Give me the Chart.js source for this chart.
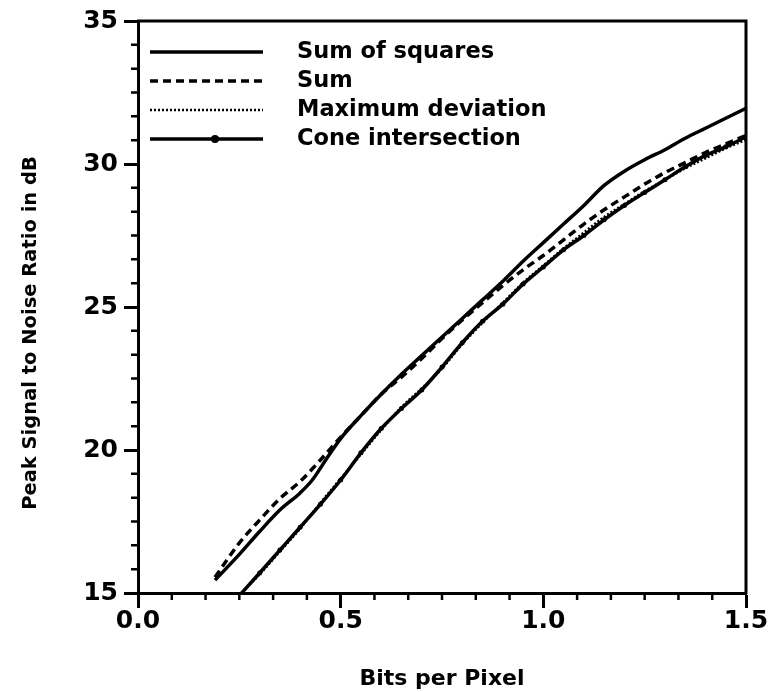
<!DOCTYPE html>
<html>
<head>
<meta charset="utf-8">
<script src="https://cdn.jsdelivr.net/npm/chart.js@4"></script>
<style>
    body { margin: 0; background: #fff; }
    #wrap { width: 774px; height: 692px; position: relative; }
</style>
</head>
<body>
<div id="wrap"><canvas id="psnrChart"></canvas></div>
<script>
// bit rates (x) and PSNR in dB (y) for each error measure
const bitsSumSquares = [0.19, 0.25, 0.30, 0.35, 0.40, 0.43, 0.47, 0.50, 0.55, 0.60, 0.65, 0.70, 0.75, 0.80, 0.85, 0.90, 0.95, 1.00, 1.05, 1.10, 1.15, 1.20, 1.25, 1.30, 1.35, 1.40, 1.45, 1.50];
const psnrSumSquares = [15.45, 16.35, 17.15, 17.9, 18.5, 18.95, 19.8, 20.4, 21.2, 21.95, 22.65, 23.3, 23.95, 24.6, 25.25, 25.9, 26.6, 27.25, 27.9, 28.55, 29.25, 29.75, 30.15, 30.5, 30.9, 31.25, 31.6, 31.95];

const bitsSum = [0.19, 0.25, 0.30, 0.35, 0.40, 0.45, 0.50, 0.55, 0.60, 0.65, 0.70, 0.75, 0.80, 0.85, 0.90, 0.95, 1.00, 1.05, 1.10, 1.15, 1.20, 1.25, 1.30, 1.35, 1.40, 1.45, 1.50];
const psnrSum = [15.55, 16.75, 17.55, 18.3, 18.9, 19.65, 20.45, 21.2, 21.95, 22.55, 23.2, 23.9, 24.55, 25.15, 25.75, 26.3, 26.8, 27.35, 27.9, 28.4, 28.85, 29.3, 29.7, 30.05, 30.4, 30.7, 31.0];

const bitsLower = [0.24, 0.30, 0.35, 0.40, 0.45, 0.50, 0.55, 0.60, 0.65, 0.70, 0.75, 0.80, 0.85, 0.90, 0.95, 1.00, 1.05, 1.10, 1.15, 1.20, 1.25, 1.30, 1.35, 1.40, 1.45, 1.50];
const psnrMaxDev = [14.8, 15.65, 16.45, 17.25, 18.15, 19.0, 19.85, 20.7, 21.5, 22.15, 22.85, 23.7, 24.45, 25.15, 25.85, 26.45, 27.05, 27.6, 28.15, 28.6, 29.05, 29.45, 29.85, 30.2, 30.55, 30.85];
const psnrCone = [14.75, 15.7, 16.5, 17.3, 18.1, 18.95, 19.9, 20.75, 21.45, 22.1, 22.9, 23.75, 24.5, 25.1, 25.8, 26.4, 27.0, 27.5, 28.05, 28.55, 29.0, 29.45, 29.9, 30.3, 30.6, 30.95];

const seriesNames = ['Sum of squares', 'Sum', 'Maximum deviation', 'Cone intersection'];

const xTicks = [0.0, 0.5, 1.0, 1.5];
const yTicks = [15, 20, 25, 30, 35];
const minorPerMajor = 6;

const FONT = 'DejaVu Sans';

function pairs(xs, ys) {
    return xs.map((x, i) => ({ x: x, y: ys[i] }));
}

// outer frame plus the small in-between ticks
const frameTicks = {
    id: 'frameTicks',
    afterDraw(chart) {
        const ctx = chart.ctx;
        const a = chart.chartArea;
        const x = chart.scales.x;
        const y = chart.scales.y;
        ctx.save();
        ctx.strokeStyle = '#000';
        ctx.lineWidth = 3;
        ctx.beginPath();
        ctx.moveTo(a.left - 1, a.top);
        ctx.lineTo(a.right, a.top);
        ctx.lineTo(a.right, a.bottom + 1);
        ctx.stroke();

        ctx.lineWidth = 2.5;
        ctx.beginPath();
        for (let k = 0; k < xTicks.length - 1; k++) {
            const step = (xTicks[k + 1] - xTicks[k]) / minorPerMajor;
            for (let i = 1; i < minorPerMajor; i++) {
                const px = x.getPixelForValue(xTicks[k] + i * step);
                ctx.moveTo(px, a.bottom);
                ctx.lineTo(px, a.bottom + 7);
            }
        }
        for (let k = 0; k < yTicks.length - 1; k++) {
            const step = (yTicks[k + 1] - yTicks[k]) / minorPerMajor;
            for (let i = 1; i < minorPerMajor; i++) {
                const py = y.getPixelForValue(yTicks[k] + i * step);
                ctx.moveTo(a.left - 7, py);
                ctx.lineTo(a.left, py);
            }
        }
        ctx.stroke();

        // y axis title sits a little below the middle of the axis
        ctx.fillStyle = '#000';
        ctx.font = 'bold 19.5px "' + FONT + '"';
        ctx.textAlign = 'center';
        ctx.textBaseline = 'middle';
        ctx.translate(31, (a.top + a.bottom) / 2 + 26);
        ctx.rotate(-Math.PI / 2);
        ctx.fillText('Peak Signal to Noise Ratio in dB', 0, 0);
        ctx.restore();
    }
};

// legend drawn inside the plot, line samples on the left
const lineLegend = {
    id: 'lineLegend',
    afterDraw(chart) {
        const ctx = chart.ctx;
        const a = chart.chartArea;
        const x0 = a.left + 12, x1 = a.left + 125, tx = a.left + 159;
        const rows = [52, 81, 110, 139];
        ctx.save();
        chart.data.datasets.forEach((ds, i) => {
            const yy = rows[i];
            ctx.strokeStyle = '#000';
            ctx.lineWidth = ds.borderWidth;
            ctx.setLineDash(ds.borderDash || []);
            ctx.beginPath();
            ctx.moveTo(x0, yy);
            ctx.lineTo(x1, yy);
            ctx.stroke();
            if (ds.pointRadius > 0) {
                ctx.setLineDash([]);
                ctx.fillStyle = '#000';
                ctx.beginPath();
                ctx.arc(x0 + 65, yy, 4, 0, Math.PI * 2);
                ctx.fill();
            }
            ctx.setLineDash([]);
            ctx.fillStyle = '#000';
            ctx.font = 'bold 22.5px "' + FONT + '"';
            ctx.textAlign = 'left';
            ctx.textBaseline = 'middle';
            ctx.fillText(ds.label, tx, yy);
        });
        ctx.restore();
    }
};

const ctx = document.getElementById('psnrChart').getContext('2d');

const chart = new Chart(ctx, {
    type: 'line',
    data: {
        datasets: [
            {
                label: seriesNames[0],
                data: pairs(bitsSumSquares, psnrSumSquares),
                borderColor: '#000',
                borderWidth: 3.5,
                pointRadius: 0
            },
            {
                label: seriesNames[1],
                data: pairs(bitsSum, psnrSum),
                borderColor: '#000',
                borderWidth: 3.5,
                borderDash: [8, 5],
                pointRadius: 0
            },
            {
                label: seriesNames[2],
                data: pairs(bitsLower, psnrMaxDev),
                borderColor: '#000',
                borderWidth: 2.5,
                borderDash: [2, 2],
                pointRadius: 0
            },
            {
                label: seriesNames[3],
                data: pairs(bitsLower, psnrCone),
                borderColor: '#000',
                backgroundColor: '#000',
                borderWidth: 3.5,
                pointRadius: 2.5,
                pointBorderWidth: 0
            }
        ]
    },
    options: {
        responsive: true,
        maintainAspectRatio: false,
        animation: false,
        cubicInterpolationMode: 'monotone',
        layout: {
            padding: { top: 17, right: 28, left: 0, bottom: 0 }
        },
        plugins: {
            legend: { display: false },
            tooltip: { enabled: false }
        },
        scales: {
            x: {
                type: 'linear',
                min: 0,
                max: 1.5,
                afterFit: function(scale) { scale.height = 99; },
                afterBuildTicks: function(scale) {
                    scale.ticks = xTicks.map(v => ({ value: v }));
                },
                ticks: {
                    color: '#000',
                    font: { family: FONT, size: 25, weight: 'bold', lineHeight: 1 },
                    padding: 1,
                    maxRotation: 0,
                    callback: v => v.toFixed(1)
                },
                grid: {
                    drawOnChartArea: false,
                    tickLength: 15,
                    tickWidth: 3,
                    tickColor: '#000'
                },
                border: { color: '#000', width: 3 },
                title: {
                    display: true,
                    text: 'Bits per Pixel',
                    color: '#000',
                    font: { family: FONT, size: 22, weight: 'bold', lineHeight: 1 },
                    padding: { top: 0, bottom: 2 }
                }
            },
            y: {
                type: 'linear',
                min: 15,
                max: 35,
                afterFit: function(scale) { scale.width = 138; },
                afterBuildTicks: function(scale) {
                    scale.ticks = yTicks.map(v => ({ value: v }));
                },
                ticks: {
                    color: '#000',
                    font: { family: FONT, size: 25, weight: 'bold' },
                    padding: 6
                },
                grid: {
                    drawOnChartArea: false,
                    tickLength: 14,
                    tickWidth: 3,
                    tickColor: '#000'
                },
                border: { color: '#000', width: 3 }
            }
        }
    },
    plugins: [frameTicks, lineLegend]
});
</script>
</body>
</html>
